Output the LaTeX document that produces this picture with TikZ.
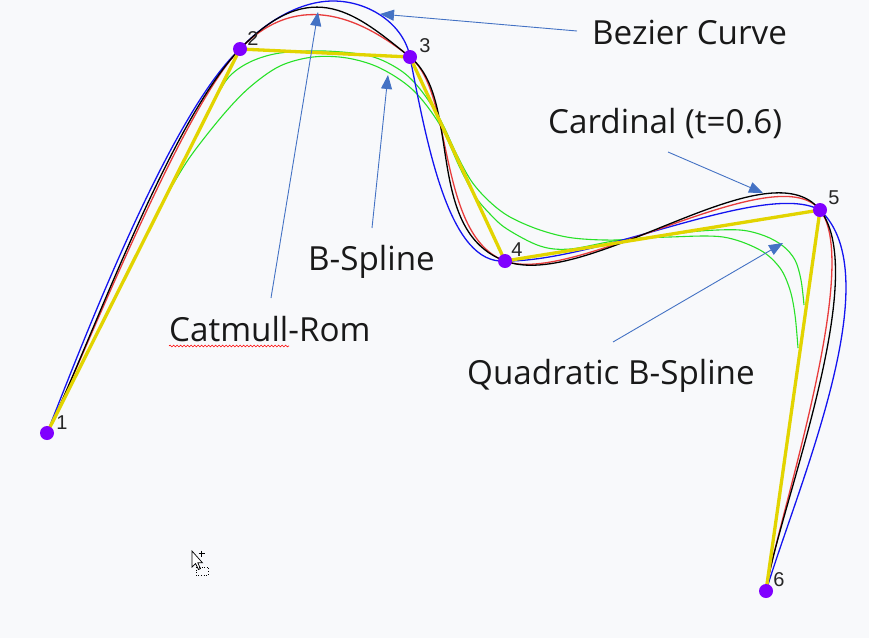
\documentclass[tikz,border=0pt]{standalone}
\usepackage{fontspec}
\setmainfont{Open Sans}
\newfontfamily\digitfont{Liberation Sans}
\usetikzlibrary{arrows.meta,decorations.pathmorphing}
\definecolor{bgc}{RGB}{248,249,251}
\definecolor{yelc}{RGB}{226,212,0}
\definecolor{redc}{RGB}{232,60,60}
\definecolor{bluec}{RGB}{20,20,240}
\definecolor{greenc}{RGB}{40,225,40}
\definecolor{dotc}{RGB}{128,0,255}
\definecolor{annc}{RGB}{68,114,196}
\tikzset{
  curve/.style={line width=1.3pt, line join=round},
  polyline/.style={draw=yelc, line width=3.3pt, line join=round},
  ptdot/.style={circle, fill=dotc, minimum size=14pt, inner sep=0pt},
  ptlabel/.style={font=\digitfont\fontsize{20}{22}\selectfont, inner sep=0pt, text=black!85},
  anntext/.style={font=\fontsize{33.2}{40}\selectfont, inner sep=0pt, anchor=base west, text=black!90},
  annarrow/.style={draw=annc, line width=0.9pt, -{Triangle[length=14pt,width=11pt]}}
}
\begin{document}
\begin{tikzpicture}[x=1pt,y=-1pt]
\fill[bgc] (0,0) rectangle (869,638);
\useasboundingbox (0,0) rectangle (869,638);
% control points
\coordinate (P1) at (47,433);
\coordinate (P2) at (240,49);
\coordinate (P3) at (410,57);
\coordinate (P4) at (505,261);
\coordinate (P5) at (820,210);
\coordinate (P6) at (766,591);
\coordinate (BT) at (333,1);
% green curves
\draw[curve, greenc, line width=1.1pt] plot[smooth, tension=0.55] coordinates {(211,107) (228,78) (250,62) (280,53) (325,51) (370,56) (400,70) (420,89) (440,119) (457,155) (472,182) (490,202) (510,217) (540,230) (573,238) (617,240) (660,236) (700,231) (740,230) (765,236) (783,246) (795,260) (801,280) (804,305)};
\draw[curve, greenc, line width=1.1pt] plot[smooth, tension=0.55] coordinates {(168,193) (190,157) (223,115) (250,87) (280,66) (313,57) (347,58) (380,68) (413,90) (440,125) (460,168) (475,196) (490,214) (507,229) (540,246) (570,249) (620,240) (670,237) (723,237) (760,250) (780,268) (790,290) (795,315) (798,348)};
% Bezier curve (blue)
\draw[curve, bluec] (P1) .. controls (78,355) and (168,116) .. (P2) .. controls (265,22) and (300,1) .. (BT) .. controls (370,1) and (404,25) .. (P3) .. controls (428,150) and (450,265) .. (P4) .. controls (600,262) and (765,180) .. (P5) .. controls (890,275) and (800,480) .. (P6);
% Catmull-Rom (red)
\draw[curve, redc] (P1) .. controls (79.17,369) and (179.5,111.67) .. (P2) .. controls (300.5,-13.67) and (365.83,21.67) .. (P3) .. controls (454.17,92.33) and (436.67,235.5) .. (P4) .. controls (573.33,286.5) and (776.5,155) .. (P5) .. controls (863.5,265) and (775,527.5) .. (P6);
% Cardinal t=0.6 (black)
\draw[curve, black] (P1) .. controls (85.6,356.2) and (167.4,124.2) .. (P2) .. controls (312.6,-26.2) and (357,14.6) .. (P3) .. controls (463,99.4) and (423,230.4) .. (P4) .. controls (587,291.6) and (767.8,144) .. (P5) .. controls (872.2,276) and (776.8,514.8) .. (P6);
% control polygon
\draw[polyline] (P1) -- (P2) -- (P3) -- (P4) -- (P5) -- (P6);
% points
\node[ptdot] (d1) at (P1) {};
\node[ptdot] (d2) at (P2) {};
\node[ptdot] (d3) at (P3) {};
\node[ptdot] (d4) at (P4) {};
\node[ptdot] (d5) at (P5) {};
\node[ptdot] (d6) at (P6) {};
\node[ptlabel] (l1) at (62,423) {1};
\node[ptlabel] (l2) at (253,39) {2};
\node[ptlabel] (l3) at (425,46) {3};
\node[ptlabel] (l4) at (517,250) {4};
\node[ptlabel] (l5) at (834,198) {5};
\node[ptlabel] (l6) at (779,580) {6};
% annotations
\node[anntext] (tBez) at (592,44) {Bezier Curve};
\node[anntext] (tCar) at (548,133) {Cardinal (t=0.6)};
\node[anntext] (tBsp) at (308,270) {B-Spline};
\node[anntext] (tCat) at (169,341) {Catmull-Rom};
\node[anntext] (tQua) at (467,384) {Quadratic B-Spline};
\coordinate (aBezT) at (577,31);
\coordinate (aBezH) at (380,14);
\coordinate (aCarT) at (668,152);
\coordinate (aCarH) at (763,193);
\coordinate (aBspT) at (372,228);
\coordinate (aBspH) at (388,75);
\coordinate (aCatT) at (271,298);
\coordinate (aCatH) at (318,12);
\coordinate (aQuaT) at (613,342);
\coordinate (aQuaH) at (783,243);
\draw[annarrow] (aBezT) -- (aBezH);
\draw[annarrow] (aCarT) -- (aCarH);
\draw[annarrow] (aBspT) -- (aBspH);
\draw[annarrow] (aCatT) -- (aCatH);
\draw[annarrow] (aQuaT) -- (aQuaH);
% spell-check squiggle
\coordinate (sqA) at (169,346);
\coordinate (sqB) at (289,346);
\draw[red, line width=0.6pt, decorate, decoration={snake, amplitude=0.9pt, segment length=3.5pt}] (sqA) -- (sqB);
% mouse cursor
\draw[black, fill=white, line width=0.7pt, line join=miter] (192,551) -- (192,567) -- (195.5,563.5) -- (198.5,569.5) -- (200.5,568.5) -- (197.8,562.8) -- (202.5,562.8) -- cycle;
\draw[black, line width=0.8pt] (198.5,553.5) -- (204.5,553.5) (201.5,550.5) -- (201.5,556.5);
\draw[black, line width=0.6pt, dotted] (196,567) rectangle (208,575);
\end{tikzpicture}
\end{document}
